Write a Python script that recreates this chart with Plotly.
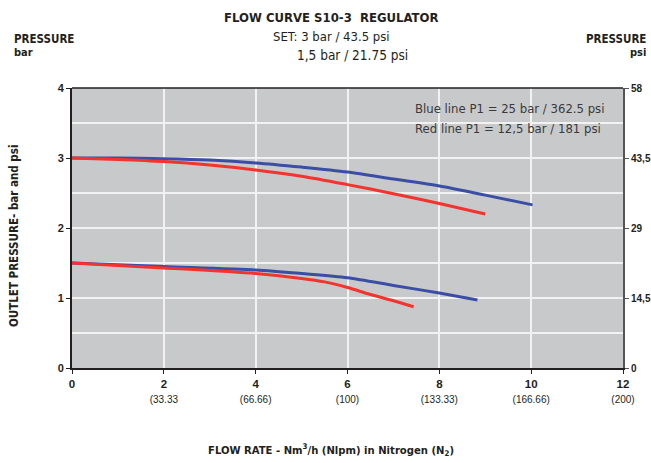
import plotly.graph_objects as go

# Data
blue_hi_x = [0, 1, 2, 3, 4, 5, 6, 7, 8, 9, 10.03]
blue_hi_y = [3.0, 3.0, 2.99, 2.97, 2.93, 2.87, 2.80, 2.70, 2.60, 2.47, 2.33]
red_hi_x = [0, 1, 2, 3, 4, 5, 6, 7, 8, 9.0]
red_hi_y = [3.0, 2.98, 2.95, 2.90, 2.83, 2.74, 2.62, 2.49, 2.35, 2.20]
blue_lo_x = [0, 2, 4, 5, 6, 7, 8, 8.83]
blue_lo_y = [1.5, 1.45, 1.40, 1.35, 1.29, 1.18, 1.07, 0.97]
red_lo_x = [0, 2, 4, 5, 5.5, 6, 6.5, 7, 7.44]
red_lo_y = [1.5, 1.43, 1.35, 1.28, 1.23, 1.15, 1.05, 0.96, 0.875]

x_ticks = [0, 2, 4, 6, 8, 10, 12]
x_sub = ["", "(33.33", "(66.66)", "(100)", "(133.33)", "(166.66)", "(200)"]
y_ticks = [0, 1, 2, 3, 4]
psi_ticks = [0, 14.5, 29, 43.5, 58]
psi_labels = ["0", "14,5", "29", "43,5", "58"]

BLUE = "#3b4ea6"
RED = "#f2332e"
COND = "DejaVu Sans Condensed, sans-serif"
ARIAL = "Liberation Sans, Arial, sans-serif"

fig = go.Figure()
for xs, ys, c in [(blue_hi_x, blue_hi_y, BLUE), (red_hi_x, red_hi_y, RED),
                  (blue_lo_x, blue_lo_y, BLUE), (red_lo_x, red_lo_y, RED)]:
    fig.add_trace(go.Scatter(x=xs, y=ys, mode="lines",
                             line=dict(color=c, width=3, shape="spline", smoothing=0.8),
                             showlegend=False, hoverinfo="skip"))
# invisible trace for the psi axis
fig.add_trace(go.Scatter(x=[0, 12], y=[0, 58], yaxis="y2", mode="lines",
                         line=dict(width=0), opacity=0, showlegend=False, hoverinfo="skip"))

ticktext = []
for t, s in zip(x_ticks, x_sub):
    if s:
        ticktext.append(f"<b>{t}</b><br><span style='font-size:10px;font-weight:normal'>{s}</span>")
    else:
        ticktext.append(f"<b>{t}</b>")

fig.update_layout(
    width=651, height=463,
    margin=dict(l=72, r=28, t=88, b=95, autoexpand=False),
    paper_bgcolor="white",
    plot_bgcolor="#c8c9cb",
    font=dict(family=ARIAL, color="#231f20"),
    xaxis=dict(range=[0, 12], tickvals=x_ticks, ticktext=ticktext,
               showgrid=True, gridcolor="#f2f2f2", gridwidth=1.5,
               zeroline=False, showline=True, linecolor="#231f20", linewidth=2,
               mirror=False, ticks="outside", ticklen=4, tickcolor="#231f20",
               automargin=False,
               tickfont=dict(size=11.5, family=ARIAL, color="#231f20")),
    yaxis=dict(range=[0, 4], tickvals=y_ticks,
               ticktext=[f"<b>{v}</b>" for v in y_ticks],
               showgrid=True, gridcolor="#f2f2f2", gridwidth=1.5,
               minor=dict(dtick=0.5, showgrid=True, gridcolor="#f2f2f2", gridwidth=1.5),
               zeroline=False, showline=True, linecolor="#231f20", linewidth=2,
               ticks="outside", ticklen=4, tickcolor="#231f20", automargin=False,
               tickfont=dict(size=11, family=ARIAL, color="#231f20")),
    yaxis2=dict(range=[0, 58], overlaying="y", side="right",
                tickvals=psi_ticks, ticktext=[f"<b>{l}</b>" for l in psi_labels],
                showgrid=False, zeroline=False, showline=True, linecolor="#555555",
                linewidth=2, ticks="outside", ticklen=4, tickcolor="#555555",
                automargin=False,
                tickfont=dict(size=10, family=ARIAL, color="#231f20")),
)

# top border of plot
fig.add_shape(type="line", xref="paper", yref="paper", x0=0, x1=1, y0=1, y1=1,
              line=dict(color="#231f20", width=1.5))


def px_ann(text, x, y, size, xanchor="center", family=COND, color="#231f20", angle=0):
    # place a label at pixel coords via paper coords
    px = (x - 72) / (623 - 72)
    py = (368 - y) / (368 - 88)
    fig.add_annotation(text=text, xref="paper", yref="paper", x=px, y=py,
                       xanchor=xanchor, yanchor="middle", showarrow=False,
                       textangle=angle,
                       font=dict(size=size, family=family, color=color))


px_ann("<b>FLOW CURVE S10-3  REGULATOR</b>", 331, 17, 13)
px_ann("SET: 3 bar / 43.5 psi", 331, 36, 13)
px_ann("1,5 bar / 21.75 psi", 352, 55, 13.5)
px_ann("<b>PRESSURE</b>", 12, 39, 11.5, xanchor="left")
px_ann("<b>bar</b>", 12, 52, 11, xanchor="left")
px_ann("<b>PRESSURE</b>", 648, 39, 11.5, xanchor="right")
px_ann("<b>psi</b>", 648, 52, 11, xanchor="right")
px_ann("Blue line P1 = 25 bar / 362.5 psi", 413, 108, 13, xanchor="left", color="#3a3a3a")
px_ann("Red line P1 = 12,5 bar / 181 psi", 413, 128, 13, xanchor="left", color="#3a3a3a")
px_ann("<b>OUTLET PRESSURE- bar and psi</b>", 14, 236, 11.5, angle=-90)
px_ann("<b>FLOW RATE - Nm<sup>3</sup>/h (Nlpm) in Nitrogen (N<sub>2</sub>)</b>", 331, 450, 11.2)

fig.write_html("out.html", config={"displayModeBar": False},
               post_script="document.body.style.margin='0';")
